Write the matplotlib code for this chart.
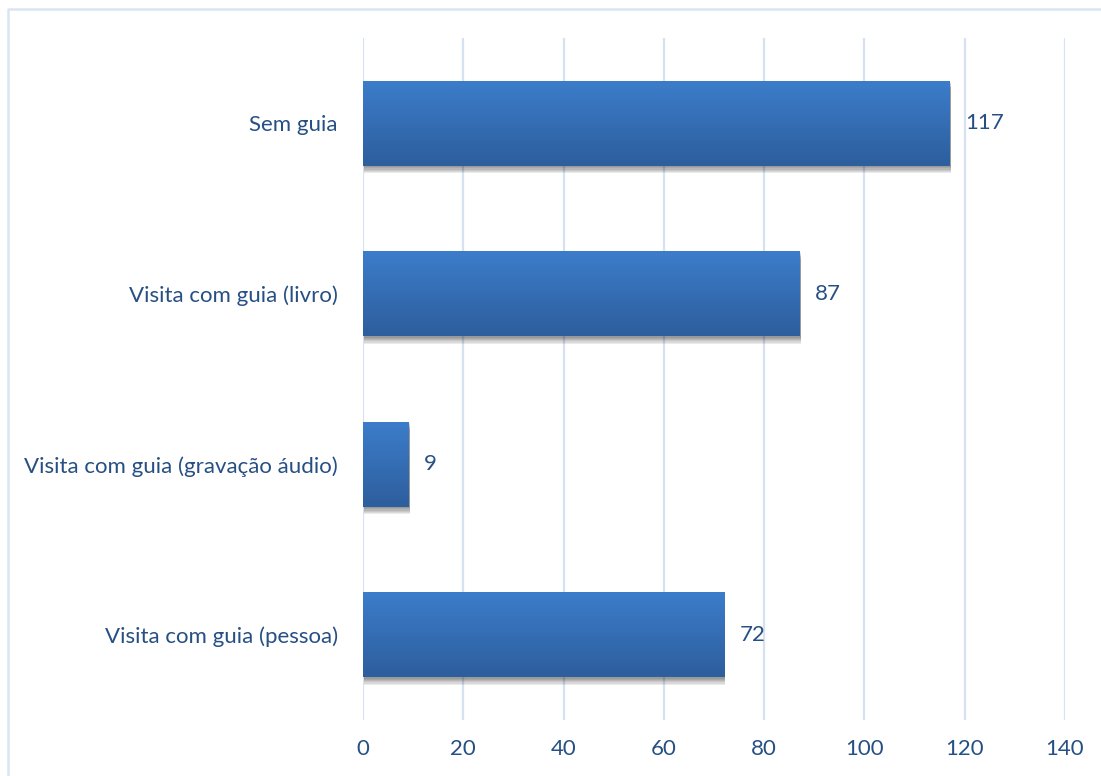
import numpy as np
import matplotlib
matplotlib.use("Agg")
import matplotlib.pyplot as plt
import matplotlib.patheffects as pe
from matplotlib.colors import LinearSegmentedColormap
from matplotlib.lines import Line2D

categories = ["Sem guia", "Visita com guia (livro)",
              "Visita com guia (gravação áudio)", "Visita com guia (pessoa)"]
values = [117, 87, 9, 72]
xticks = [0, 20, 40, 60, 80, 100, 120, 140]

text_color = "#264F84"
grid_color = "#D6E2F1"
bar_cmap = LinearSegmentedColormap.from_list("bar", ["#3C7DCB", "#2D5E9D"])

plt.rcParams["font.family"] = ["Lato", "DejaVu Sans"]

fig = plt.figure(figsize=(11.01, 7.76), dpi=100)
ax = fig.add_axes([0.3297, 0.0722, 0.6376, 0.8788])

y = np.arange(len(categories))
shadow = [pe.SimplePatchShadow(offset=(1.0, -k * 0.9), shadow_rgbFace="k", alpha=0.08)
          for k in range(1, 7)]
bars = ax.barh(y, values, height=0.5, facecolor="none", edgecolor="none", zorder=3)

# vertical gradient inside each bar, with a soft drop shadow underneath
grad = np.linspace(0, 1, 256).reshape(-1, 1)
for rect in bars:
    rect.set_path_effects(shadow)
    x0, y0 = rect.get_x(), rect.get_y()
    w, h = rect.get_width(), rect.get_height()
    im = ax.imshow(grad, cmap=bar_cmap, aspect="auto",
                   extent=[x0, x0 + w, y0 + h, y0], origin="upper",
                   zorder=4, interpolation="bilinear")
    im.set_clip_path(rect)

for yi, v in zip(y, values):
    ax.annotate(str(v), xy=(v, yi), xytext=(11, 0), textcoords="offset points",
                ha="left", va="center", fontsize=16, color=text_color)

ax.set_xlim(0, 140)
ax.set_ylim(len(categories) - 0.5, -0.5)
ax.set_xticks(xticks)
ax.set_yticks(y)
ax.set_yticklabels(categories)
ax.tick_params(axis="both", length=0, labelsize=16, labelcolor=text_color)
ax.tick_params(axis="x", pad=14)
ax.tick_params(axis="y", pad=18)
ax.grid(axis="x", color=grid_color, linewidth=1.6, zorder=0)
ax.set_axisbelow(True)
for s in ax.spines.values():
    s.set_visible(False)

# chart area frame (top and left edges)
fig.add_artist(Line2D([7.5 / 1101, 7.5 / 1101, 1.0], [0.0, 1 - 9 / 776, 1 - 9 / 776],
                      transform=fig.transFigure, color="#DAE5F2", linewidth=1.8))

fig.savefig("out.png", dpi=100)
